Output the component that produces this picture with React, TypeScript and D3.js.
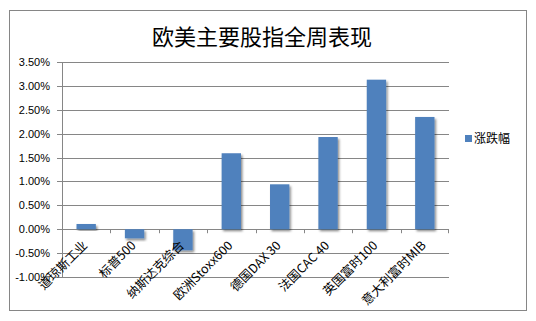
import React from "react";
import * as d3 from "d3";

const categories = ["道琼斯工业", "标普500", "纳斯达克综合", "欧洲Stoxx600", "德国DAX 30", "法国CAC 40", "英国富时100", "意大利富时MIB"];
const values = [0.11, -0.19, -0.44, 1.59, 0.94, 1.93, 3.13, 2.35];
const yTicks = [-1.0, -0.5, 0, 0.5, 1.0, 1.5, 2.0, 2.5, 3.0, 3.5];
const title = "欧美主要股指全周表现";
const seriesName = "涨跌幅";

export default function App() {
  const W = 536, H = 321;
  const x0 = 62, x1 = 449;
  const x = d3.scaleBand<string>().domain(categories).range([x0, x1]).paddingInner(0.6).paddingOuter(0.3);
  const xb = d3.scaleBand<string>().domain(categories).range([x0, x1]);
  const y = d3.scaleLinear().domain([-1, 3.5]).range([277, 62]);
  const fmt = (v: number) => v.toFixed(2) + "%";
  const cjk = "'Noto Sans CJK SC', sans-serif";
  const num = "'Liberation Sans', Arial, sans-serif";
  return (
    <svg width={W} height={H} style={{ position: "absolute", left: 0, top: 0, background: "#fff" }}>
      <defs>
        <filter id="sh" x="-20%" y="-20%" width="150%" height="150%">
          <feDropShadow dx="1.5" dy="2" stdDeviation="1.2" floodColor="#000" floodOpacity="0.45" />
        </filter>
      </defs>
      <rect x={9.5} y={10.5} width={517} height={300} fill="#fff" stroke="#868686" />
      <text x={262} y={45} textAnchor="middle" fontFamily={cjk} fontSize={22} fill="#000">{title}</text>
      {yTicks.map((t) => (
        <g key={t}>
          <line x1={x0 - 5} x2={x1} y1={Math.round(y(t)) + 0.5} y2={Math.round(y(t)) + 0.5} stroke="#868686" strokeWidth={1} />
          <text x={50} y={y(t) + 4} textAnchor="end" fontFamily={num} fontSize={11} fill="#000">{fmt(t)}</text>
        </g>
      ))}
      <line x1={x0 + 0.5} x2={x0 + 0.5} y1={y(3.5)} y2={y(-1)} stroke="#868686" />
      {categories.map((c, i) => {
        const v = values[i];
        const top = y(Math.max(0, v));
        const h = Math.abs(y(v) - y(0));
        return (
          <rect key={c} x={x(c)} y={top} width={x.bandwidth()} height={h} fill="#4f81bd" filter="url(#sh)" />
        );
      })}
      {categories.map((c, i) => (
        <line key={"t" + i} x1={Math.round(xb(c)!) + 0.5} x2={Math.round(xb(c)!) + 0.5} y1={y(0)} y2={y(0) + 4} stroke="#868686" />
      ))}
      <line x1={x1 - 0.5} x2={x1 - 0.5} y1={y(0)} y2={y(0) + 4} stroke="#868686" />
      {categories.map((c) => {
        const cx = xb(c)! + xb.bandwidth() / 2 + 2;
        const cy = y(0) + 17;
        return (
          <text key={"l" + c} x={cx} y={cy} transform={`rotate(-45 ${cx} ${cy})`} textAnchor="end" fontFamily={cjk} fontSize={12.5} fill="#000">{c}</text>
        );
      })}
      <rect x={465} y={135} width={7} height={7} fill="#4f81bd" />
      <text x={474} y={143} fontFamily={cjk} fontSize={12} fill="#000">{seriesName}</text>
    </svg>
  );
}
